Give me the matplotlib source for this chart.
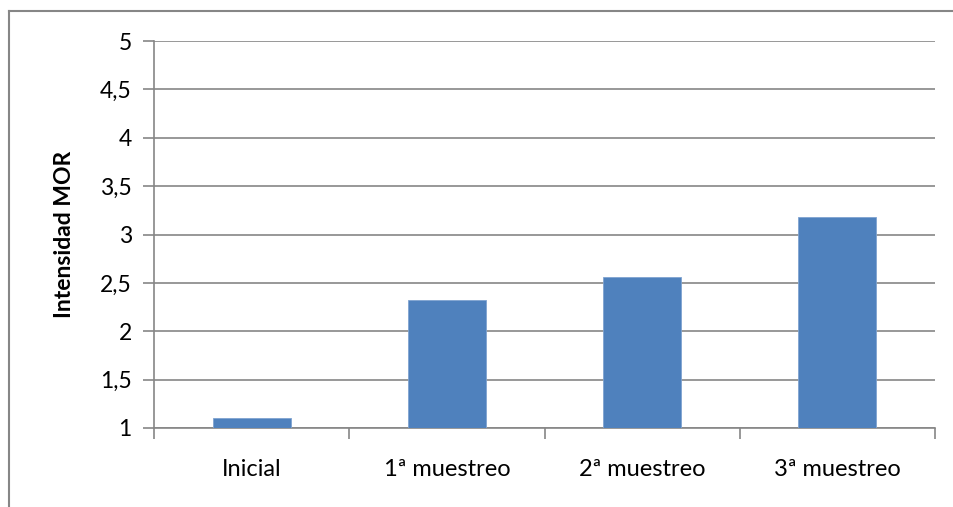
import matplotlib.pyplot as plt
import numpy as np
from matplotlib.lines import Line2D
from matplotlib.ticker import FixedLocator, FuncFormatter

categories = ['Inicial', '1ª muestreo', '2ª muestreo', '3ª muestreo']
values = [1.10, 2.32, 2.56, 3.18]
y_ticks = [1, 1.5, 2, 2.5, 3, 3.5, 4, 4.5, 5]

plt.rcParams['font.family'] = ['Lato', 'DejaVu Sans']
grey = '#868686'

fig = plt.figure(figsize=(9.54, 5.07), dpi=100)
ax = fig.add_axes([154 / 954, 1 - 428 / 507, (935 - 154) / 954, (428 - 41) / 507])

x = np.arange(len(categories))
ax.bar(x, np.array(values) - 1, bottom=1, width=0.4, color='#4F81BD',
       edgecolor='#7FA3D0', linewidth=0.6, zorder=3)

ax.set_xlim(-0.5, len(categories) - 0.5)
ax.set_ylim(1, 5)
ax.set_yticks(y_ticks)
ax.yaxis.set_major_formatter(FuncFormatter(lambda v, p: f'{v:g}'.replace('.', ',')))
ax.grid(axis='y', color=grey, linewidth=1.2, zorder=0)
ax.set_axisbelow(True)

# category labels centred, ticks at category boundaries
ax.set_xticks(x)
ax.set_xticklabels(categories, fontsize=17)
ax.tick_params(axis='x', which='major', length=0, pad=22)
ax.xaxis.set_minor_locator(FixedLocator(np.arange(len(categories) + 1) - 0.5))
ax.tick_params(axis='x', which='minor', length=8, width=1.2, color=grey)
ax.tick_params(axis='y', length=8, width=1.2, color=grey, labelsize=16.5, pad=8)

for s in ['top', 'right']:
    ax.spines[s].set_visible(False)
for s in ['left', 'bottom']:
    ax.spines[s].set_color(grey)
    ax.spines[s].set_linewidth(1.2)

ax.set_ylabel('Intensidad MOR', fontsize=16.5, fontweight='bold', labelpad=18)

# chart frame (left and top edges visible)
fig.add_artist(Line2D([9 / 954, 9 / 954], [0, 1 - 11 / 507], transform=fig.transFigure,
                      color=grey, linewidth=1.5))
fig.add_artist(Line2D([9 / 954, 1], [1 - 11 / 507, 1 - 11 / 507], transform=fig.transFigure,
                      color=grey, linewidth=1.5))

fig.savefig('out.png', dpi=100)
